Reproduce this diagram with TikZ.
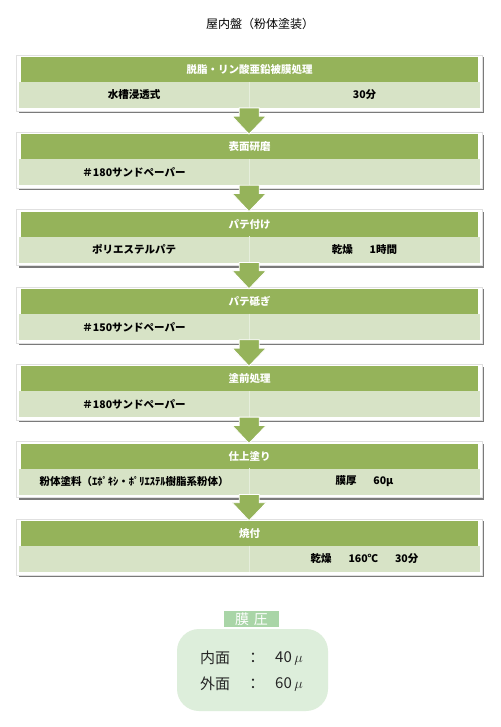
\documentclass[tikz,border=0pt]{standalone}
\usepackage{fontspec}
\setmainfont{Noto Sans CJK JP}
\usetikzlibrary{calc}
\definecolor{hgreen}{HTML}{95B35A}
\definecolor{lgreen}{HTML}{D7E3C6}
\definecolor{divc}{HTML}{E6EEDC}
\definecolor{tagg}{HTML}{A9D5A7}
\definecolor{panelc}{HTML}{DDEEDB}
\definecolor{shadowc}{HTML}{7A7A7A}
\begin{document}
\begin{tikzpicture}[x=1pt,y=-1pt,
  wbox/.style={fill=white,draw=black!12,line width=0.6pt,minimum width=466pt,minimum height=56pt,inner sep=0pt},
  hdr/.style={fill=hgreen,text=white,font=\fontsize{10.5}{12}\selectfont\bfseries,minimum width=457pt,minimum height=25pt,inner sep=0pt},
  cellL/.style={fill=lgreen,font=\fontsize{10.5}{12}\selectfont\bfseries,minimum width=230pt,minimum height=26pt,inner sep=0pt},
  cellR/.style={fill=lgreen,font=\fontsize{10.5}{12}\selectfont\bfseries,minimum width=231pt,minimum height=26pt,inner sep=0pt},
  blockarrow/.style={fill=hgreen,draw=white,line width=0.8pt,line join=miter},
  tagbox/.style={fill=tagg,text=white,font=\fontsize{14}{16}\selectfont,minimum width=55pt,minimum height=16pt,inner sep=0pt},
  panelbox/.style={fill=panelc,rounded corners=22pt,minimum width=151pt,minimum height=82pt,inner sep=0pt},
  ptext/.style={font=\fontsize{15}{17}\selectfont,text=black!85,inner sep=0pt}
]
\useasboundingbox (0,0) rectangle (500,727);
\fill[white] (0,0) rectangle (500,727);

\node[font=\fontsize{12}{14}\selectfont] (title) at (260,24) {屋内盤（粉体塗装）};

\foreach \h/\l/\r [count=\i from 0] in {
  脱脂・リン酸亜鉛被膜処理/水槽浸透式/30分,
  表面研磨/＃180サンドペーパー/{},
  パテ付け/ポリエステルパテ/乾燥\hspace{1.6em}1時間,
  パテ砥ぎ/＃150サンドペーパー/{},
  塗前処理/＃180サンドペーパー/{},
  仕上塗り/粉体塗料（ｴﾎﾟｷｼ・ﾎﾟﾘｴｽﾃﾙ樹脂系粉体）/膜厚\hspace{1.6em}60µ,
  焼付/{}/乾燥\hspace{1.6em}160℃\hspace{1.6em}30分}{
  \pgfmathsetmacro\T{55+77.3*\i}
  \fill[shadowc] (18.5,\T+2.5) rectangle (484,\T+58);
  \node[wbox] (w\i) at (249,\T+28) {};
  \node[hdr] (h\i) at (249.5,\T+14.5) {\h};
  \node[cellL] (l\i) at (134,\T+40) {\l};
  \node[cellR] (r\i) at (364.5,\T+40) {\r};
  \draw[divc,line width=0.8pt] (l\i.north east) -- (l\i.south east);
}

\foreach \i [evaluate=\i as \j using int(\i+1)] in {0,...,5}{
  \draw[blockarrow] ($(l\i.south east)+(-10,-0.3)$) -- ($(l\i.south east)+(10,-0.3)$)
    -- ($(l\i.south east)+(10,8)$) -- ($(l\i.south east)+(17,8)$)
    -- ($(h\j.north)+(-0.5,0)$) -- ($(l\i.south east)+(-17,8)$)
    -- ($(l\i.south east)+(-10,8)$) -- cycle;
}

\node[panelbox] (panel) at (252.5,670) {};
\node[tagbox] (tag) at (251.5,619) {膜\hspace{0.35em}圧};
\node[ptext] (in) at (215,658) {内面};
\node[ptext] (inc) at (253,658) {：};
\node[ptext,anchor=west] (inv) at (275,658) {40\,$\mu$};
\node[ptext] (out) at (215,684) {外面};
\node[ptext] (outc) at (253,684) {：};
\node[ptext,anchor=west] (outv) at (275,684) {60\,$\mu$};
\end{tikzpicture}
\end{document}
